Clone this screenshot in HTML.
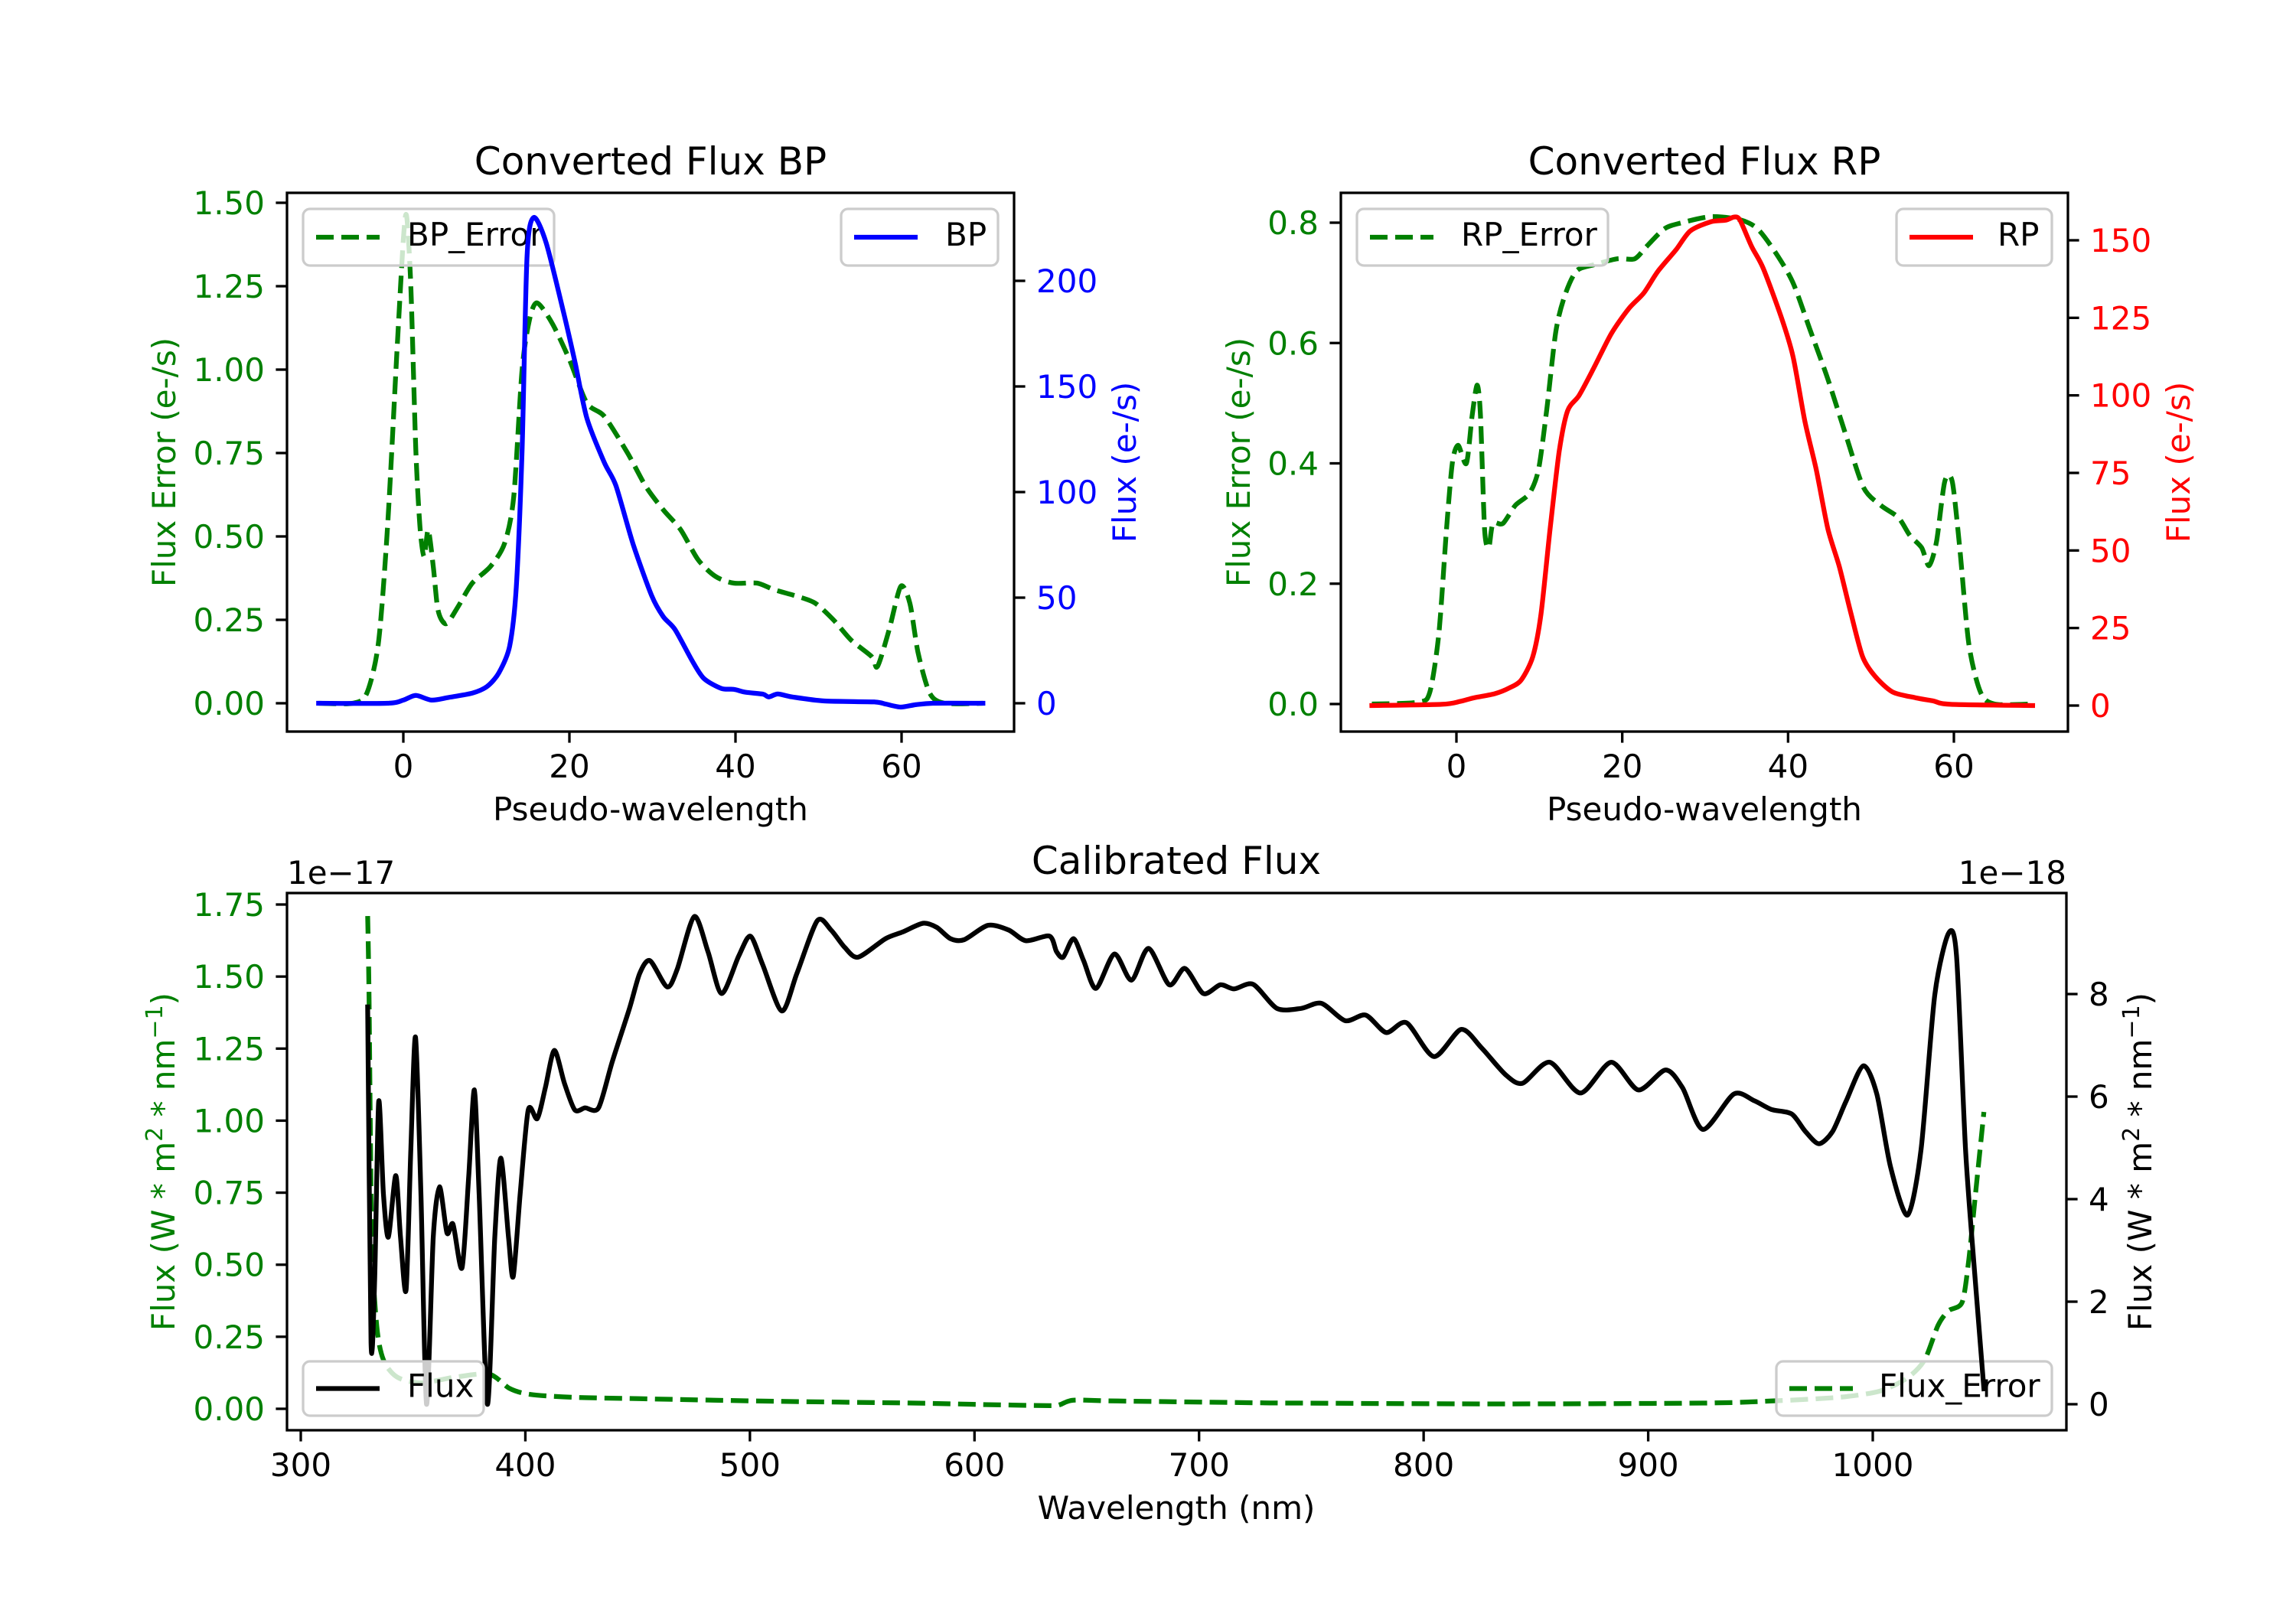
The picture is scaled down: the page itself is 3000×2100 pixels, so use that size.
<!DOCTYPE html>
<html><head><meta charset="utf-8"><style>
html,body{margin:0;padding:0;background:#fff}
svg{display:block;font-family:"DejaVu Sans","Liberation Sans",sans-serif}
</style></head><body>
<svg id="fig" width="3000" height="2100" viewBox="0 0 3000 2100" xmlns="http://www.w3.org/2000/svg">
<rect width="3000" height="2100" fill="#fff"/>
</svg>
<script>
// ---- BP data ----
const bpX = [-10.2,-1.9,0,1.5,3.4,5.5,8.3,10.1,11.5,12.8,13.6,14.3,14.9,15.7,17.2,19.3,20.7,22.1,24.2,25.6,27.7,29.9,31.3,32.7,34.8,36.2,38.3,39.8,41.2,43.3,44.0,45.1,46.8,50.7,56.7,58.1,59.9,61.7,63.8,69.8];
const bpFlux = [0,0,1.5,3.7,1.5,2.8,4.8,8,14.4,27,55,120,212,230,218,185,161,135,114,103,75,51,41,35,20,11.7,7,6.6,5.2,4.3,3,4.4,3,1.1,0.6,-0.4,-1.8,-0.7,0,0];
const bpErrX = [-10.2,-6.1,-4.4,-3.0,-1.9,-0.8,0,0.4,0.9,1.5,2.0,2.5,3.0,3.6,4.1,4.6,5.3,6.6,8.3,10.5,12.2,13.3,14.3,15.2,16.1,17.9,20.0,22.1,24.2,27.0,29.2,31.3,33.4,35.5,37.6,39.8,42.6,44.7,47.5,49.6,51.8,53.9,56.4,57.1,58.5,59.9,61.0,62.0,63.4,65.2,69.8];
const bpErr = [0,0,0.03,0.18,0.53,1.04,1.39,1.46,1.25,0.76,0.53,0.44,0.52,0.41,0.29,0.25,0.24,0.29,0.36,0.41,0.48,0.62,1.0,1.15,1.2,1.14,1.03,0.9,0.86,0.75,0.65,0.58,0.52,0.43,0.38,0.36,0.36,0.34,0.32,0.30,0.25,0.19,0.14,0.11,0.22,0.35,0.30,0.15,0.03,0,0];
// ---- RP data ----
const rpX = [-10.2,-1.8,0.4,2.1,4.6,6.4,7.8,9.2,10.2,11.3,12.4,13.4,14.8,16.6,18.7,20.8,22.6,24.3,26.5,28.2,30.7,32.5,33.5,34.2,35.6,37.0,39.2,40.6,42.0,43.4,44.8,46.2,47.6,49.0,50.5,52.6,55.4,57.5,59.6,69.5];
const rpFlux = [0,0.4,1.3,2.5,3.8,5.7,8.2,15.7,29.5,57,82,95,100,109,120,128,133,140,147,153,156,156.5,157.5,156.5,148,141,125,112.5,92,76,57,44.6,29.5,15.7,9.4,4.4,2.5,1.5,0.4,0];
const rpErrX = [-10.2,-4.6,-3.2,-2.1,-1.2,-0.5,0.2,1.2,1.9,2.5,2.9,3.4,3.9,4.4,5.6,7.1,8.8,9.9,10.9,12.0,13.1,14.5,16.6,19.4,21.5,22.9,25.1,27.2,30.7,34.2,36.3,38.5,40.6,42.7,44.8,46.9,49.1,51.2,53.3,54.7,56.1,57.0,57.9,58.9,59.8,60.7,61.8,63.2,64.9,69.5];
const rpErr = [0,0.003,0.02,0.12,0.29,0.40,0.43,0.40,0.48,0.53,0.48,0.29,0.26,0.30,0.30,0.33,0.35,0.39,0.49,0.62,0.68,0.72,0.73,0.74,0.74,0.76,0.79,0.80,0.81,0.805,0.79,0.75,0.70,0.62,0.54,0.45,0.36,0.33,0.31,0.28,0.26,0.23,0.27,0.37,0.37,0.26,0.10,0.02,0,0];
// ---- Calibrated data ----
const calX = [329.8,331.3,332.9,334.7,336.8,339,342.3,344.4,346.9,349,351.1,353.5,356,359,361.8,365.1,367.8,371.8,374.8,377.3,379.4,383.1,386.4,389.1,392.5,394.6,397.7,401.3,405.3,408.9,412.9,417.4,422,426.6,432.6,438.7,446.3,450.9,455.5,463.1,467.6,475.2,481.3,487.4,495,500.2,505.7,514.2,520.9,530,536.1,542.2,548.2,560.4,568,577.1,583.2,589.3,595.4,606,615.2,622.8,633.4,636.5,639.5,644.1,648.6,654.1,662.3,669.9,677.5,686.7,693.7,701.9,709.5,715.6,724.1,734.7,745.4,754.5,765.1,774.2,783.3,792.4,804.6,816.7,825.8,836.4,844,856.1,869.8,883.5,895.6,907.7,915.3,924.4,938.1,947.2,954.8,963.9,970,976,982.1,988.2,995.8,1001.8,1007.9,1015.5,1021.5,1027.6,1033.7,1037.3,1041.3,1044.9,1049.5];
const calFlux = [7.75,1.2,2.4,5.9,4.1,3.26,4.46,3.26,2.23,4.97,7.16,4.1,0,3.26,4.24,3.34,3.51,2.66,4.46,6.13,4.11,0,3.26,4.8,3.26,2.49,4.11,5.74,5.57,6.17,6.9,6.26,5.74,5.78,5.78,6.68,7.71,8.4,8.65,8.14,8.48,9.51,8.83,8.01,8.74,9.13,8.57,7.67,8.4,9.43,9.25,8.91,8.72,9.08,9.21,9.38,9.3,9.08,9.06,9.34,9.25,9.04,9.13,8.83,8.72,9.08,8.65,8.11,8.78,8.27,8.89,8.18,8.5,8.01,8.18,8.1,8.19,7.72,7.72,7.82,7.48,7.59,7.25,7.44,6.78,7.31,6.95,6.43,6.26,6.67,6.07,6.67,6.13,6.52,6.17,5.36,6.05,5.92,5.75,5.66,5.32,5.08,5.32,5.92,6.6,6.05,4.63,3.69,4.97,7.98,9.18,8.75,4.97,2.83,0.3];
const calErrX = [329.8,330.4,331.6,333.8,336.8,342.9,353.5,368.8,384,393.1,402.2,420.5,450.9,511.7,572.6,603,633.4,638,644.1,663.9,724.7,742.3,833.4,924.4,954.8,985.1,1003.3,1015.5,1023.1,1029.1,1033.7,1039.8,1042.8,1045.8,1049.5];
const calErr = [1.71,1.43,0.6,0.29,0.17,0.11,0.09,0.11,0.12,0.07,0.05,0.04,0.035,0.026,0.02,0.015,0.011,0.014,0.03,0.027,0.021,0.02,0.017,0.02,0.027,0.04,0.062,0.108,0.17,0.29,0.34,0.37,0.52,0.75,1.03];
// tick labels
const bpLeftTicks = [0,0.25,0.5,0.75,1.0,1.25,1.5];
const bpRightTicks = [0,50,100,150,200];
const pseudoTicks = [0,20,40,60];
const rpLeftTicks = [0,0.2,0.4,0.6,0.8];
const rpRightTicks = [0,25,50,75,100,125,150];
const calLeftTicks = [0,0.25,0.5,0.75,1.0,1.25,1.5,1.75];
const calRightTicks = [0,2,4,6,8];
const calXTicks = [300,400,500,600,700,800,900,1000];

const NS = "http://www.w3.org/2000/svg";
const svg = document.getElementById('fig');
function mk(tag, attrs, parent){ const e=document.createElementNS(NS,tag); for(const k in attrs) e.setAttribute(k,attrs[k]); (parent||svg).appendChild(e); return e; }
function lin(d0,d1,p0,p1){ return v => p0 + (v-d0)*(p1-p0)/(d1-d0); }
function pathD(xs,ys,sx,sy){
  const P = xs.map((x,i)=>[sx(x),sy(ys[i])]);
  let d = 'M'+P[0][0].toFixed(1)+' '+P[0][1].toFixed(1);
  const k = 0.4/3*1.0;
  for(let i=0;i<P.length-1;i++){
    const p0=P[Math.max(0,i-1)], p1=P[i], p2=P[i+1], p3=P[Math.min(P.length-1,i+2)];
    const c1=[p1[0]+(p2[0]-p0[0])*k, p1[1]+(p2[1]-p0[1])*k];
    const c2=[p2[0]-(p3[0]-p1[0])*k, p2[1]-(p3[1]-p1[1])*k];
    // keep x monotone for control points
    c1[0]=Math.min(Math.max(c1[0],p1[0]),p2[0]); c2[0]=Math.min(Math.max(c2[0],p1[0]),p2[0]);
    d+=' C'+c1[0].toFixed(1)+' '+c1[1].toFixed(1)+' '+c2[0].toFixed(1)+' '+c2[1].toFixed(1)+' '+p2[0].toFixed(1)+' '+p2[1].toFixed(1);
  }
  return d;
}

function drawLine(xs,ys,sx,sy,color,dashed,name,clip){
  const p = mk('path',{d:pathD(xs,ys,sx,sy),fill:'none',stroke:color,'stroke-width':6.25,'stroke-linejoin':'round','clip-path':'url(#'+clip+')'});
  if(dashed){ p.setAttribute('stroke-dasharray','23 10'); p.setAttribute('stroke-linecap','butt'); } else p.setAttribute('stroke-linecap','square');
  
  
}
function legend(x0,x1,y0,y1,color,dashed,text,tx,name){
  const g = mk('g',{});
  
  
  mk('rect',{x:x0,y:y0,width:x1-x0,height:y1-y0,rx:9,fill:'rgba(255,255,255,0.8)',stroke:'#cccccc','stroke-width':3.3},g);
  const cy=(y0+y1)/2;
  const l = mk('line',{x1:x0+17,x2:x0+100,y1:cy,y2:cy,stroke:color,'stroke-width':6.25},g);
  if(dashed) l.setAttribute('stroke-dasharray','23 10');
  const t = mk('text',{x:tx,y:cy+11,'font-size':42,fill:'#000'},g); t.textContent=text;
}
function yTicks(ticks,sy,x,side,color,fmt,name){
  ticks.forEach(v=>{
    const y=sy(v);
    const tk = mk('line',{x1:x,x2:x+(side<0?-14.6:14.6),y1:y,y2:y,stroke:'#000','stroke-width':3.3});
    
    
    const t = mk('text',{x:x+side*29,y:y+15,'font-size':42,fill:color,'text-anchor':side<0?'end':'start'});
    t.textContent=fmt(v);
    
    
  });
}
function xTicks(ticks,sx,y,name){
  ticks.forEach(v=>{
    const x=sx(v);
    const tk = mk('line',{x1:x,x2:x,y1:y,y2:y+14.6,stroke:'#000','stroke-width':3.3});
    
    
    const t = mk('text',{x:x,y:y+60,'font-size':42,fill:'#000','text-anchor':'middle'});
    t.textContent=String(v);
    
    
  });
}
function label(text,x,y,rot,color,size,name,anchor){
  const t = mk('text',{x:x,y:y,'font-size':size,fill:color,'text-anchor':anchor||'middle'});
  if(rot) t.setAttribute('transform','rotate(-90 '+x+' '+y+')');
  t.textContent=text;
  
  
  return t;
}
function frame(x0,x1,y0,y1,name){
  const r = mk('rect',{x:x0,y:y0,width:x1-x0,height:y1-y0,fill:'none',stroke:'#000','stroke-width':3.3});
  
  
}
const defs = mk('defs',{});
function clip(id,x0,x1,y0,y1){ const c=mk('clipPath',{id:id},defs); mk('rect',{x:x0,y:y0,width:x1-x0,height:y1-y0},c); }

const f2 = v=>v.toFixed(2), f1=v=>v.toFixed(1), f0=v=>String(v);

// ===== BP panel =====
const bpL=375,bpR=1325,T=252,B=956;
clip('cbp',bpL,bpR,T,B);
const bpSx = lin(0,60,527,1178);
const bpSyL = lin(0,1.5,919,265);
const bpSyR = lin(0,200,919,367);
drawLine(bpErrX,bpErr,bpSx,bpSyL,'#008000',true,'bp-error-line','cbp');
legend(396,724,273,347,'#008000',true,'BP_Error',532,'bp-error-legend');
drawLine(bpX,bpFlux,bpSx,bpSyR,'#0000ff',false,'bp-flux-line','cbp');
legend(1099,1304,273,347,'#0000ff',false,'BP',1235,'bp-legend');
frame(bpL,bpR,T,B,'bp-axes');
yTicks(bpLeftTicks,bpSyL,bpL,-1,'#008000',f2,'bp-left-y');
yTicks(bpRightTicks,bpSyR,bpR,1,'#0000ff',f0,'bp-right-y');
xTicks(pseudoTicks,bpSx,B,'bp-x');
label('Converted Flux BP',850,228,false,'#000',50,'bp-title');
label('Flux Error (e-/s)',229,604,true,'#008000',42,'bp-left-y-title');
label('Pseudo-wavelength',850,1072,false,'#000',42,'bp-x-title');
label('Flux (e-/s)',1484,604,true,'#0000ff',42,'bp-right-y-title');

// ===== RP panel =====
const rpL=1752,rpR=2702;
clip('crp',rpL,rpR,T,B);
const rpSx = lin(0,60,1903,2553);
const rpSyL = lin(0,0.8,920,291);
const rpSyR = lin(0,150,922,314);
drawLine(rpErrX,rpErr,rpSx,rpSyL,'#008000',true,'rp-error-line','crp');
legend(1773,2101,273,347,'#008000',true,'RP_Error',1909,'rp-error-legend');
drawLine(rpX,rpFlux,rpSx,rpSyR,'#ff0000',false,'rp-flux-line','crp');
legend(2478,2681,273,347,'#ff0000',false,'RP',2610,'rp-legend');
frame(rpL,rpR,T,B,'rp-axes');
yTicks(rpLeftTicks,rpSyL,rpL,-1,'#008000',f1,'rp-left-y');
yTicks(rpRightTicks,rpSyR,rpR,1,'#ff0000',f0,'rp-right-y');
xTicks(pseudoTicks,rpSx,B,'rp-x');
label('Converted Flux RP',2227,228,false,'#000',50,'rp-title');
label('Flux Error (e-/s)',1633,604,true,'#008000',42,'rp-left-y-title');
label('Pseudo-wavelength',2227,1072,false,'#000',42,'rp-x-title');
label('Flux (e-/s)',2861,604,true,'#ff0000',42,'rp-right-y-title');

// ===== Calibrated panel =====
const cL=375,cR=2700,cT=1167,cB=1869;
clip('ccal',cL,cR,cT,cB);
const cSx = lin(300,1000,393,2447);
const cSyL = lin(0,1.75,1841,1182);
const cSyR = lin(0,8,1835,1299);
drawLine(calErrX,calErr,cSx,cSyL,'#008000',true,'flux-error-line','ccal');
legend(2321,2681,1779,1850,'#008000',true,'Flux_Error',2455,'flux-error-legend');
drawLine(calX,calFlux,cSx,cSyR,'#000000',false,'flux-line','ccal');
legend(396,632,1779,1850,'#000000',false,'Flux',532,'flux-legend');
frame(cL,cR,cT,cB,'calibrated-axes');
yTicks(calLeftTicks,cSyL,cL,-1,'#008000',f2,'cal-left-y');
yTicks(calRightTicks,cSyR,cR,1,'#000',f0,'cal-right-y');
xTicks(calXTicks,cSx,cB,'cal-x');
label('Calibrated Flux',1537,1142,false,'#000',50,'calibrated-title');
label('1e\u221217',375,1155,false,'#000',42,'left-offset-text','start');
label('1e\u221218',2700,1155,false,'#000',42,'right-offset-text','end');
label('Wavelength (nm)',1537,1985,false,'#000',42,'cal-x-title');
const ll = label('Flux (W * m',228,1518,true,'#008000',42,'cal-left-y-title');
ll.innerHTML='Flux (W * m<tspan dy="-16" font-size="30">2</tspan><tspan dy="16"> * nm</tspan><tspan dy="-16" font-size="30">\u22121</tspan><tspan dy="16">)</tspan>';
const rl = label('Flux (W * m',2811,1518,true,'#000',42,'cal-right-y-title');
rl.innerHTML='Flux (W * m<tspan dy="-16" font-size="30">2</tspan><tspan dy="16"> * nm</tspan><tspan dy="-16" font-size="30">\u22121</tspan><tspan dy="16">)</tspan>';
</script>
</body></html>
